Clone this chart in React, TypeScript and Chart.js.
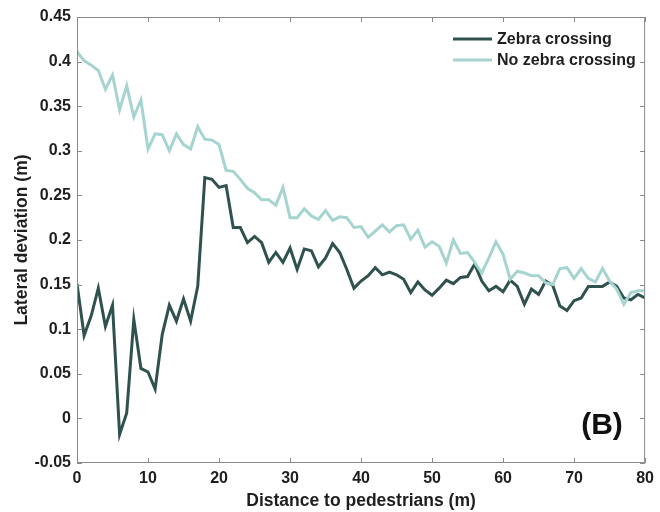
import React, { useEffect, useRef } from "react";
import { Chart, registerables } from "chart.js";

Chart.register(...registerables);

const distances: number[] = Array.from({ length: 81 }, (_, i) => i);

const zebraCrossing: number[] = [
  0.151, 0.093, 0.115, 0.146, 0.103, 0.127, -0.018, 0.006, 0.111, 0.056,
  0.052, 0.033, 0.094, 0.127, 0.109, 0.134, 0.109, 0.148, 0.270, 0.268,
  0.259, 0.261, 0.214, 0.214, 0.197, 0.204, 0.197, 0.175, 0.186, 0.175,
  0.191, 0.167, 0.190, 0.188, 0.170, 0.180, 0.196, 0.186, 0.167, 0.146,
  0.154, 0.160, 0.169, 0.161, 0.164, 0.161, 0.156, 0.141, 0.153, 0.144,
  0.138, 0.146, 0.155, 0.151, 0.158, 0.159, 0.173, 0.154, 0.143, 0.148,
  0.142, 0.155, 0.148, 0.128, 0.145, 0.139, 0.154, 0.149, 0.126, 0.121,
  0.132, 0.135, 0.148, 0.148, 0.148, 0.153, 0.148, 0.135, 0.133, 0.139,
  0.135,
];

const noZebraCrossing: number[] = [
  0.411, 0.401, 0.396, 0.390, 0.369, 0.385, 0.346, 0.373, 0.338, 0.357,
  0.302, 0.319, 0.318, 0.300, 0.319, 0.307, 0.302, 0.327, 0.313, 0.312,
  0.307, 0.278, 0.277, 0.268, 0.258, 0.253, 0.245, 0.245, 0.239, 0.259,
  0.225, 0.225, 0.235, 0.227, 0.223, 0.233, 0.222, 0.226, 0.225, 0.214,
  0.215, 0.203, 0.210, 0.217, 0.209, 0.216, 0.217, 0.201, 0.211, 0.192,
  0.198, 0.193, 0.174, 0.200, 0.185, 0.186, 0.175, 0.163, 0.180, 0.198,
  0.184, 0.156, 0.165, 0.163, 0.160, 0.160, 0.152, 0.150, 0.168, 0.169,
  0.157, 0.168, 0.157, 0.153, 0.168, 0.154, 0.145, 0.128, 0.141, 0.143,
  0.143,
];

const seriesNames: string[] = ["Zebra crossing", "No zebra crossing"];
const seriesColors: string[] = ["#2f524e", "#a6d4d0"];
const xTickValues: number[] = [0, 10, 20, 30, 40, 50, 60, 70, 80];
const yTickValues: number[] = [-0.05, 0, 0.05, 0.1, 0.15, 0.2, 0.25, 0.3, 0.35, 0.4, 0.45];
const panelLabel = "(B)";
const xTitle = "Distance to pedestrians (m)";
const yTitle = "Lateral deviation (m)";

const FONT = "'Liberation Sans', Arial, Helvetica, sans-serif";
const AXIS_COLOR = "#8a8a8a";
const TEXT_COLOR = "#1e1e1e";

const boxPlugin = {
  id: "boxTicksLegend",
  afterDraw(chart: any) {
    const { ctx, chartArea } = chart;
    const { left, right, top, bottom } = chartArea;
    const xs = chart.scales.x;
    const ys = chart.scales.y;
    ctx.save();
    ctx.strokeStyle = AXIS_COLOR;
    ctx.lineWidth = 1;
    ctx.beginPath();
    ctx.rect(left + 0.5, top + 0.5, right - left - 1, bottom - top - 1);
    ctx.stroke();
    const tl = 5;
    ctx.beginPath();
    xTickValues.forEach((v) => {
      const px = Math.round(xs.getPixelForValue(v)) + 0.5;
      ctx.moveTo(px, bottom);
      ctx.lineTo(px, bottom - tl);
      ctx.moveTo(px, top);
      ctx.lineTo(px, top + tl);
    });
    yTickValues.forEach((v) => {
      const py = Math.round(ys.getPixelForValue(v)) + 0.5;
      ctx.moveTo(left, py);
      ctx.lineTo(left + tl, py);
      ctx.moveTo(right, py);
      ctx.lineTo(right - tl, py);
    });
    ctx.stroke();

    // legend
    ctx.font = `bold 16px ${FONT}`;
    ctx.textBaseline = "middle";
    ctx.textAlign = "left";
    const legendX = 453;
    const legendY = [39, 60];
    seriesNames.forEach((name, i) => {
      ctx.strokeStyle = seriesColors[i];
      ctx.lineWidth = 3;
      ctx.beginPath();
      ctx.moveTo(legendX, legendY[i]);
      ctx.lineTo(legendX + 39, legendY[i]);
      ctx.stroke();
      ctx.fillStyle = TEXT_COLOR;
      ctx.fillText(name, legendX + 44, legendY[i] + 1);
    });

    // panel label
    ctx.font = `bold 30px ${FONT}`;
    ctx.textAlign = "center";
    ctx.fillStyle = "#111";
    ctx.fillText(panelLabel, 602, 426);
    ctx.restore();
  },
};

export default function App() {
  const canvasRef = useRef<HTMLCanvasElement | null>(null);

  useEffect(() => {
    if (!canvasRef.current) return;
    const chart = new Chart(canvasRef.current, {
      type: "line",
      data: {
        labels: distances,
        datasets: [
          {
            label: seriesNames[1],
            data: distances.map((d, i) => ({ x: d, y: noZebraCrossing[i] })),
            borderColor: seriesColors[1],
            borderWidth: 3,
            pointRadius: 0,
            tension: 0,
          },
          {
            label: seriesNames[0],
            data: distances.map((d, i) => ({ x: d, y: zebraCrossing[i] })),
            borderColor: seriesColors[0],
            borderWidth: 3,
            pointRadius: 0,
            tension: 0,
          },
        ],
      },
      options: {
        animation: false,
        responsive: false,
        maintainAspectRatio: false,
        layout: { padding: { left: 0, right: 9, top: 17, bottom: 0 } },
        plugins: { legend: { display: false }, tooltip: { enabled: false } },
        scales: {
          x: {
            type: "linear",
            min: 0,
            max: 80,
            afterBuildTicks: (s: any) => {
              s.ticks = xTickValues.map((v) => ({ value: v }));
            },
            afterFit: (s: any) => {
              s.height = 49;
            },
            grid: { display: false, drawTicks: false },
            border: { display: false },
            ticks: {
              padding: 6,
              color: TEXT_COLOR,
              font: { family: FONT, size: 16, weight: "bold" },
              maxRotation: 0,
            },
            title: {
              display: true,
              text: xTitle,
              color: TEXT_COLOR,
              font: { family: FONT, size: 17.5, weight: "bold" },
              padding: { top: 0, bottom: 0 },
            },
          },
          y: {
            min: -0.05,
            max: 0.45,
            afterBuildTicks: (s: any) => {
              s.ticks = yTickValues.map((v) => ({ value: v }));
            },
            afterFit: (s: any) => {
              s.width = 77;
            },
            grid: { display: false, drawTicks: false },
            border: { display: false },
            ticks: {
              padding: 6,
              color: TEXT_COLOR,
              font: { family: FONT, size: 16, weight: "bold" },
              callback: (v: any) => String(Math.round(Number(v) * 100) / 100),
            },
            title: {
              display: true,
              text: yTitle,
              color: TEXT_COLOR,
              font: { family: FONT, size: 17.5, weight: "bold" },
              padding: { top: 12, bottom: 0 },
            },
          },
        },
      },
      plugins: [boxPlugin],
    });
    return () => chart.destroy();
  }, []);

  return (
    <div style={{ position: "fixed", left: 0, top: 0, width: 660, height: 512, background: "#fff" }}>
      <canvas ref={canvasRef} width={660} height={512} style={{ width: 660, height: 512, display: "block" }} />
    </div>
  );
}
